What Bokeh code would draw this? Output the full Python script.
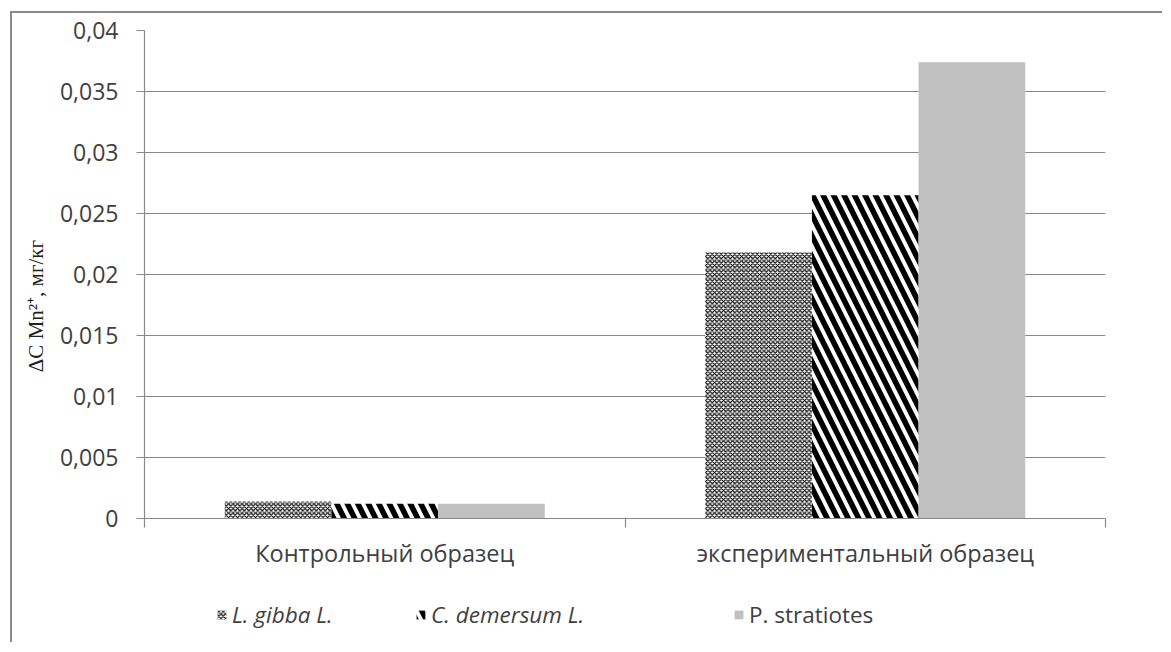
import numpy as np
from bokeh.plotting import figure
from bokeh.layouts import column
from bokeh.models import (ColumnDataSource, FixedTicker, Legend, LegendItem, Range1d)
from bokeh.embed import file_html
from bokeh.resources import INLINE

# ---- data ----
categories = ["Контрольный образец", "экспериментальный образец"]
series_names = ["L. gibba L.", "C. demersum L.", "P. stratiotes"]
l_gibba = [0.0014, 0.0218]
c_demersum = [0.0012, 0.0265]
p_stratiotes = [0.0012, 0.0374]
y_ticks = [0, 0.005, 0.01, 0.015, 0.02, 0.025, 0.03, 0.035, 0.04]
y_tick_labels = ["0", "0,005", "0,01", "0,015", "0,02", "0,025", "0,03", "0,035", "0,04"]
y_label = "ΔC Mn²⁺, мг/кг"

GRID = "#888888"
TXT = "#404040"
FONT = "Open Sans"

p = figure(width=1150, height=565, output_backend="svg", toolbar_location=None,
           x_range=Range1d(0, len(categories)), y_range=Range1d(0, 0.04),
           min_border_left=132, min_border_right=57, min_border_top=17,
           min_border_bottom=60)
p.outline_line_color = None
p.background_fill_color = "white"
p.border_fill_color = "white"

idx = np.arange(len(categories))
bar_w = 0.222
offsets = [-bar_w, 0.0, bar_w]
series_vals = [l_gibba, c_demersum, p_stratiotes]
styles = [
    dict(fill_color="white", hatch_pattern="diagonal_cross", hatch_color="black",
         hatch_scale=4.5, hatch_weight=1.2),
    dict(fill_color="white", hatch_pattern="left_diagonal_line", hatch_color="black",
         hatch_scale=21, hatch_weight=5.5),
    dict(fill_color="#c0c0c0"),
]
sources = []
for vals, off, st in zip(series_vals, offsets, styles):
    src = ColumnDataSource(dict(x=idx + 0.5 + off, top=vals))
    sources.append(src)
    p.vbar(x="x", top="top", width=bar_w, source=src, line_color=None, **st)

# axes
p.xgrid.grid_line_color = None
p.ygrid.grid_line_color = GRID
p.ygrid.grid_line_width = 1.2
p.ygrid.ticker = FixedTicker(ticks=y_ticks)

yax = p.yaxis[0]
yax.ticker = FixedTicker(ticks=y_ticks)
yax.major_label_overrides = {t: l for t, l in zip(y_ticks, y_tick_labels)}
yax.axis_line_color = GRID
yax.axis_line_width = 1.2
yax.major_tick_line_color = GRID
yax.major_tick_line_width = 1.2
yax.major_tick_out = 8
yax.major_tick_in = 0
yax.minor_tick_line_color = None
yax.major_label_text_font = FONT
yax.major_label_text_font_size = "23px"
yax.major_label_text_color = TXT
yax.major_label_standoff = 18
yax.axis_label = y_label + "\u00a0" * 12
yax.axis_label_text_font = "Liberation Serif"
yax.axis_label_text_font_style = "normal"
yax.axis_label_text_font_size = "21px"
yax.axis_label_text_color = "#202020"
yax.axis_label_standoff = 9

xax = p.xaxis[0]
centers = [i + 0.5 for i in range(len(categories))]
bounds = list(range(len(categories) + 1))
xax.ticker = FixedTicker(ticks=centers, minor_ticks=bounds)
xax.major_label_overrides = {c: l for c, l in zip(centers, categories)}
xax.axis_line_color = GRID
xax.axis_line_width = 1.2
xax.major_tick_line_color = None
xax.major_tick_out = 0
xax.major_tick_in = 0
xax.minor_tick_line_color = GRID
xax.minor_tick_line_width = 1.2
xax.minor_tick_out = 9
xax.minor_tick_in = 0
xax.major_label_text_font = FONT
xax.major_label_text_font_size = "23.5px"
xax.major_label_text_color = TXT
xax.major_label_standoff = 9

# ---- legend strip below the chart ----
lf = figure(width=1150, height=64, output_backend="svg", toolbar_location=None,
            x_range=Range1d(0, 2), y_range=Range1d(1, 2),
            min_border_left=0, min_border_right=0, min_border_top=0,
            min_border_bottom=0)
lf.axis.visible = False
lf.grid.visible = False
lf.outline_line_color = None
lf.background_fill_color = "white"
lf.border_fill_color = "white"

leg_x = [72, 271, 589]
leg_style = ["italic", "italic", "normal"]
for name, st, src, lx, fs in zip(series_names, styles, sources, leg_x, leg_style):
    # same data, drawn outside this strip's visible range: only the legend key shows
    r = lf.vbar(x="x", top="top", width=bar_w, source=src, line_color=None, **st)
    lg = Legend(items=[LegendItem(label=name, renderers=[r])],
                location=(lx, 12), orientation="horizontal",
                padding=0, margin=0, border_line_color=None,
                background_fill_alpha=0, glyph_width=11, glyph_height=11,
                label_standoff=5, label_text_font=FONT,
                label_text_font_size="22.5px", label_text_font_style=fs,
                label_text_color=TXT)
    lf.add_layout(lg, "center")

layout = column(p, lf, spacing=0)
layout.styles = {"border-top": "2px solid #8a8a8a", "border-left": "2px solid #8a8a8a",
                 "margin-left": "10px", "margin-top": "11px"}

open("out.html", "w").write(file_html(layout, INLINE))
